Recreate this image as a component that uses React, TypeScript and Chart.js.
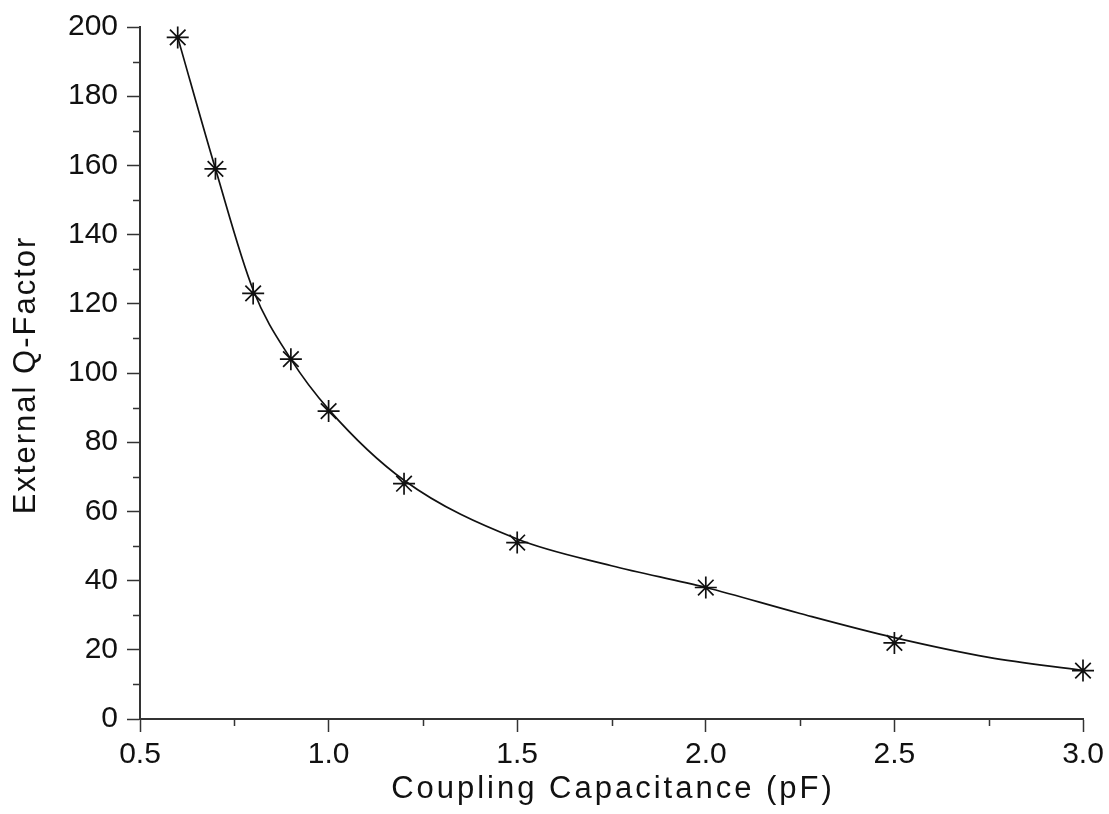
import React, { useEffect, useRef } from "react";
import { Chart, registerables } from "chart.js";

Chart.register(...registerables);

// Measured points (asterisk markers)
const capacitancePF = [0.6, 0.7, 0.8, 0.9, 1.0, 1.2, 1.5, 2.0, 2.5, 3.0];
const externalQ = [197, 159, 123, 104, 89, 68, 51, 38, 22, 14];

// Smooth fitted curve
const fitCapacitancePF = [0.6, 0.7, 0.8, 0.9, 1.0, 1.2, 1.5, 1.75, 2.0, 2.25, 2.5, 2.75, 3.0];
const fitQ = [197, 159, 124, 104, 89.5, 69, 52, 44.3, 38, 30.5, 23.5, 17.8, 14];

const xMinorTicks = [0.75, 1.25, 1.75, 2.25, 2.75];
const yMinorTicks = [10, 30, 50, 70, 90, 110, 130, 150, 170, 190];

const xTitle = "Coupling Capacitance (pF)";
const yTitle = "External Q-Factor";

const FONT = "'Liberation Sans', Arial, sans-serif";
const AXIS_COLOR = "#333";
const TEXT_COLOR = "#111";

const minorTickPlugin = {
  id: "minorTicks",
  afterDraw(chart: any) {
    const ctx = chart.ctx;
    const xs = chart.scales.x;
    const ys = chart.scales.y;
    ctx.save();
    ctx.strokeStyle = AXIS_COLOR;
    ctx.lineWidth = 1.5;
    ctx.beginPath();
    for (const v of xMinorTicks) {
      const px = Math.round(xs.getPixelForValue(v)) + 0.5;
      ctx.moveTo(px, xs.top);
      ctx.lineTo(px, xs.top + 7);
    }
    for (const v of yMinorTicks) {
      const py = Math.round(ys.getPixelForValue(v)) + 0.5;
      ctx.moveTo(ys.right, py);
      ctx.lineTo(ys.right - 7, py);
    }
    ctx.stroke();
    ctx.restore();
  },
};

const axisTitlePlugin = {
  id: "axisTitles",
  afterDraw(chart: any) {
    const ctx = chart.ctx;
    const area = chart.chartArea;
    ctx.save();
    ctx.fillStyle = TEXT_COLOR;
    ctx.font = `31px ${FONT}`;
    ctx.textAlign = "center";
    ctx.textBaseline = "alphabetic";
    (ctx as any).letterSpacing = "3px";
    ctx.fillText(xTitle, (area.left + area.right) / 2 + 1.5, 798);
    (ctx as any).letterSpacing = "2px";
    ctx.translate(35, (area.top + area.bottom) / 2 + 3);
    ctx.rotate(-Math.PI / 2);
    ctx.fillText(yTitle, 1, 0);
    ctx.restore();
  },
};

export default function App() {
  const canvasRef = useRef<HTMLCanvasElement | null>(null);

  useEffect(() => {
    if (!canvasRef.current) return;
    const chart = new Chart(canvasRef.current, {
      type: "line",
      data: {
        datasets: [
          {
            label: "Fit",
            data: fitCapacitancePF.map((c, i) => ({ x: c, y: fitQ[i] })),
            borderColor: "#111",
            borderWidth: 1.7,
            cubicInterpolationMode: "monotone",
            pointRadius: 0,
            fill: false,
          },
          {
            label: "Measured",
            data: capacitancePF.map((c, i) => ({ x: c, y: externalQ[i] })),
            showLine: false,
            clip: false,
            pointStyle: "star",
            pointRadius: 11,
            pointBorderWidth: 1.7,
            pointBorderColor: "#111",
            pointBackgroundColor: "#111",
          },
        ],
      },
      options: {
        responsive: false,
        animation: false,
        devicePixelRatio: 1,
        layout: { padding: { top: 24, right: 26, bottom: 0, left: 0 } },
        plugins: {
          legend: { display: false },
          tooltip: { enabled: false },
          title: { display: false },
        },
        scales: {
          x: {
            type: "linear",
            min: 0.5,
            max: 3.0,
            ticks: {
              stepSize: 0.5,
              padding: 5,
              color: TEXT_COLOR,
              font: { family: FONT, size: 30 },
              callback: (v: any) => Number(v).toFixed(1),
            },
            grid: {
              display: true,
              drawOnChartArea: false,
              drawTicks: true,
              tickLength: 13,
              tickColor: AXIS_COLOR,
              tickWidth: 1.5,
            },
            border: { display: true, color: AXIS_COLOR, width: 2 },
            afterFit: (s: any) => {
              s.height = 95;
            },
          },
          y: {
            type: "linear",
            min: 0,
            max: 200,
            ticks: {
              stepSize: 20,
              padding: 9,
              color: TEXT_COLOR,
              font: { family: FONT, size: 30 },
            },
            grid: {
              display: true,
              drawOnChartArea: false,
              drawTicks: true,
              tickLength: 13,
              tickColor: AXIS_COLOR,
              tickWidth: 1.5,
            },
            border: { display: true, color: AXIS_COLOR, width: 2 },
            afterFit: (s: any) => {
              s.width = 140;
            },
          },
        },
      } as any,
      plugins: [minorTickPlugin, axisTitlePlugin],
    });
    return () => chart.destroy();
  }, []);

  return (
    <div style={{ position: "absolute", left: 0, top: 0, width: 1109, height: 814, background: "#fff" }}>
      <canvas ref={canvasRef} width={1109} height={814} style={{ display: "block" }} />
    </div>
  );
}
